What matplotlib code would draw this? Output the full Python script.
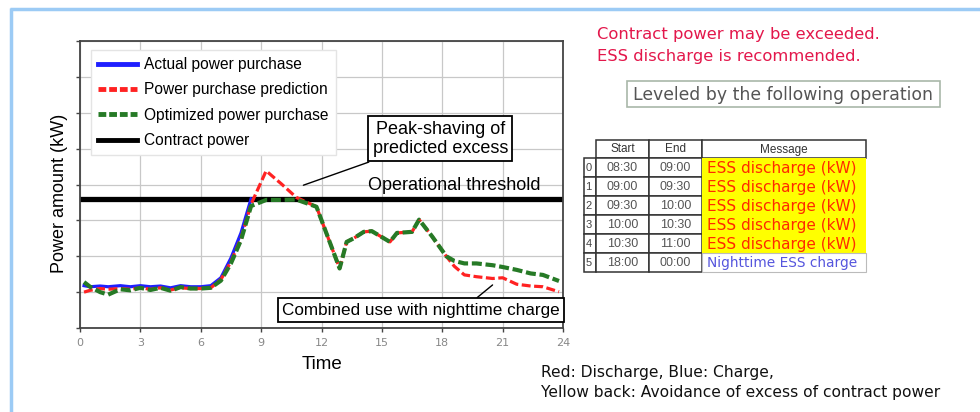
import numpy as np
import matplotlib as ml
ml.use('Agg')
import matplotlib.pyplot as plt
from matplotlib.patches import Rectangle
from matplotlib.lines import Line2D

nan = np.nan

# data (power in grid units, time in hours)
hours = [0.2, 0.5, 1.0, 1.4, 2.0, 2.5, 3.0, 3.5, 4.0, 4.5, 5.0, 5.5, 6.0, 6.5,
         7.0, 7.5, 8.0, 8.5, 9.25, 10.0, 10.75, 11.75, 12.9, 13.25, 13.6, 14.1,
         14.5, 15.4, 15.75, 16.5, 16.85, 17.5, 18.2, 18.6, 19.1, 19.7, 20.5,
         21.0, 21.7, 22.4, 23.0, 23.8]
actual = [1.18, 1.15, 1.17, 1.15, 1.18, 1.15, 1.18, 1.15, 1.17, 1.12, 1.18,
          1.15, 1.15, 1.18, 1.40, 1.95, 2.65, 3.60] + [nan] * 24
predicted = [1.00, 1.05, 1.10, 1.08, 1.10, 1.08, 1.12, 1.08, 1.12, 1.06, 1.12,
             1.10, 1.10, 1.12, 1.35, 1.85, 2.50, 3.45, 4.38, 4.02, 3.64, 3.38,
             1.66, 2.40, 2.50, 2.68, 2.70, 2.40, 2.65, 2.68, 3.02, 2.55, 2.00,
             1.72, 1.48, 1.43, 1.38, 1.40, 1.22, 1.17, 1.15, 1.01]
optimized = [1.28, 1.15, 1.00, 0.93, 1.08, 1.05, 1.12, 1.06, 1.12, 1.04, 1.14,
             1.10, 1.10, 1.12, 1.32, 1.80, 2.45, 3.40, 3.57, 3.57, 3.58, 3.38,
             1.66, 2.40, 2.50, 2.68, 2.70, 2.40, 2.65, 2.68, 3.02, 2.55, 2.00,
             1.87, 1.80, 1.80, 1.75, 1.70, 1.62, 1.52, 1.48, 1.31]
contract_power = 3.6

x_ticks = [0, 3, 6, 9, 12, 15, 18, 21, 24]
y_ticks = [0, 1, 2, 3, 4, 5, 6, 7, 8]

table_index = ['0', '1', '2', '3', '4', '5']
table_start = ['08:30', '09:00', '09:30', '10:00', '10:30', '18:00']
table_end = ['09:00', '09:30', '10:00', '10:30', '11:00', '00:00']
table_msg = ['ESS discharge (kW)'] * 5 + ['Nighttime ESS charge']
table_discharge = [True, True, True, True, True, False]

narrow = ['Liberation Sans', 'DejaVu Sans']
plt.rcParams['font.family'] = ['DejaVu Sans']

W, H = 980, 412
fig = plt.figure(figsize=(W / 100, H / 100), dpi=100)

# background canvas in pixel coordinates
bg = fig.add_axes([0, 0, 1, 1])
bg.set_xlim(0, W)
bg.set_ylim(H, 0)
bg.axis('off')
bg.plot([10, W], [9, 9], color='#9ccbf5', lw=2.5, solid_capstyle='butt')
bg.plot([10.5, 10.5], [8, H], color='#9ccbf5', lw=2.5, solid_capstyle='butt')

# main chart
ax = fig.add_axes([80 / W, 1 - 328 / H, 483 / W, 287 / H])
ax.plot(hours, actual, color='#1f1fff', lw=2.3, zorder=3)
ax.plot(hours, predicted, color='#ff2222', lw=2.3, dashes=(2.8, 1.1), zorder=4)
ax.plot(hours, optimized, color='#267a26', lw=3.0, dashes=(2.4, 0.9), zorder=5)
ax.axhline(contract_power, color='black', lw=3.8, zorder=2)

ax.set_xlim(0, 24)
ax.set_ylim(0, 8)
ax.set_xticks(x_ticks)
ax.set_yticks(y_ticks)
ax.set_yticklabels([])
ax.grid(True, color='#c8c8c8', lw=0.9)
ax.set_axisbelow(True)
for s in ax.spines.values():
    s.set_color('#444444')
    s.set_linewidth(1.3)
ax.tick_params(axis='both', direction='out', length=3, width=1, color='#444444')
ax.tick_params(axis='x', labelsize=8, labelcolor='#888888', pad=4)
ax.set_xlabel('Time', fontsize=13.5, family=narrow, labelpad=6)
ax.set_ylabel('Power amount (kW)', fontsize=13, family=narrow)
ax.yaxis.set_label_coords(-0.025, 0.47)

handles = [
    Line2D([], [], color='#1f1fff', lw=3.5),
    Line2D([], [], color='#ff2222', lw=3.5, dashes=(1.6, 0.6)),
    Line2D([], [], color='#267a26', lw=3.5, dashes=(1.6, 0.6)),
    Line2D([], [], color='black', lw=3.5),
]
labels = ['Actual power purchase', 'Power purchase prediction',
          'Optimized power purchase', 'Contract power']
leg = ax.legend(handles, labels, loc='upper left', bbox_to_anchor=(0.006, 0.995),
                prop={'family': narrow, 'size': 11.2}, handlelength=2.5,
                handletextpad=0.5, labelspacing=0.66, borderpad=0.45,
                fancybox=False, framealpha=1, edgecolor='#e4e4e4')
leg.set_zorder(6)

box = dict(boxstyle='square,pad=0.25', fc='white', ec='black', lw=1.3)
ax.annotate('Peak-shaving of\npredicted excess', xy=(11.1, 3.98), xytext=(17.9, 5.27),
            ha='center', va='center', fontsize=13, family=narrow, bbox=box,
            linespacing=1.15, zorder=7,
            arrowprops=dict(arrowstyle='-', color='black', lw=1,
                            shrinkA=0, shrinkB=0, relpos=(0.08, 0.0)))
ax.text(14.3, 3.98, 'Operational threshold', ha='left', va='center',
        fontsize=13, family=narrow, zorder=7)
ax.annotate('Combined use with nighttime charge', xy=(20.5, 1.2), xytext=(16.95, 0.5),
            ha='center', va='center', fontsize=12.3, family=narrow, bbox=box,
            zorder=7,
            arrowprops=dict(arrowstyle='-', color='black', lw=1,
                            shrinkA=0, shrinkB=0, relpos=(0.68, 1.0)))

# right-hand panel
bg.text(597, 34, 'Contract power may be exceeded.', color='#e3174b',
        fontsize=11.8, ha='left', va='center')
bg.text(597, 56, 'ESS discharge is recommended.', color='#e3174b',
        fontsize=11.8, ha='left', va='center')
bg.add_patch(Rectangle((627, 81), 313, 26, fc='white', ec='#a9b8a9', lw=1.2))
bg.text(633, 94.5, 'Leveled by the following operation', color='#555555',
        fontsize=12.4, ha='left', va='center')

col_x = [584, 596, 649, 702, 866]
header_y = 140
row_y = [158, 177, 196, 215, 234, 253, 272]
grid_c = '#333333'

# header cells
for j, name in enumerate(['Start', 'End', 'Message']):
    x0, x1 = col_x[j + 1], col_x[j + 2]
    bg.add_patch(Rectangle((x0, header_y), x1 - x0, row_y[0] - header_y,
                           fc='white', ec=grid_c, lw=1.1))
    bg.text((x0 + x1) / 2, (header_y + row_y[0]) / 2 + 0.5, name, fontsize=8.5,
            color='#333333', ha='center', va='center', family=narrow)

for i in range(len(table_index)):
    y0, y1 = row_y[i], row_y[i + 1]
    ym = (y0 + y1) / 2 + 0.5
    for j in range(3):
        x0, x1 = col_x[j], col_x[j + 1]
        bg.add_patch(Rectangle((x0, y0), x1 - x0, y1 - y0, fc='white', ec=grid_c, lw=1.1))
    bg.text(col_x[0] + 1.5, ym, table_index[i], fontsize=8, color='#444444',
            ha='left', va='center', family=narrow)
    bg.text((col_x[1] + col_x[2]) / 2, ym, table_start[i], fontsize=9,
            color='#555555', ha='center', va='center', family=narrow)
    bg.text((col_x[2] + col_x[3]) / 2, ym, table_end[i], fontsize=9,
            color='#555555', ha='center', va='center', family=narrow)
    if table_discharge[i]:
        bg.add_patch(Rectangle((col_x[3], y0), col_x[4] - col_x[3], y1 - y0,
                               fc='#ffff00', ec='none', zorder=2))
        mc, fs = '#ff2a00', 11
    else:
        bg.add_patch(Rectangle((col_x[3], y0), col_x[4] - col_x[3], y1 - y0,
                               fc='white', ec='#bbbbbb', lw=0.8, zorder=2))
        mc, fs = '#5555dd', 9.9
    bg.text(col_x[3] + 5, ym, table_msg[i], fontsize=fs, color=mc, ha='left',
            va='center', zorder=3)

bg.text(541, 373, 'Red: Discharge, Blue: Charge,', fontsize=11.2, color='#111111',
        ha='left', va='center')
bg.text(541, 392, 'Yellow back: Avoidance of excess of contract power', fontsize=11.2,
        color='#111111', ha='left', va='center')

fig.savefig('out.png', dpi=100)
